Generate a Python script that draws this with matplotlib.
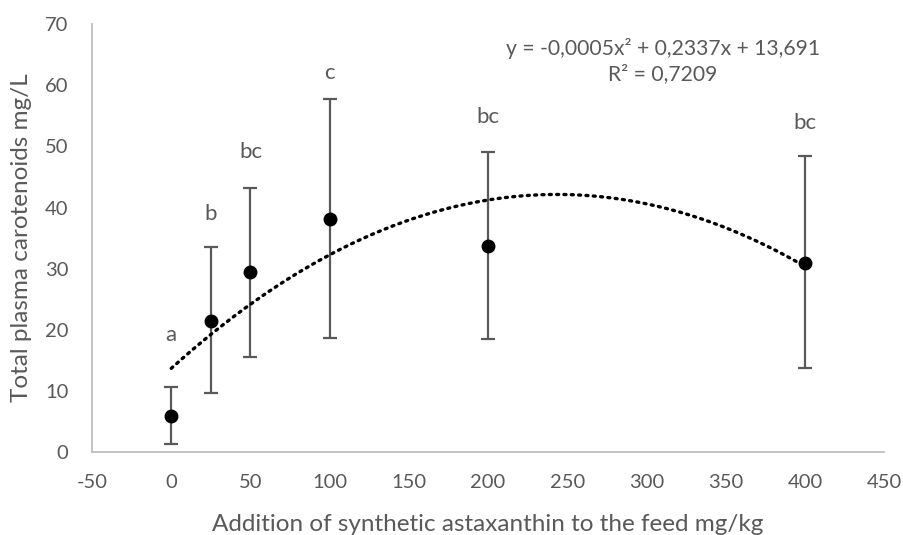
import numpy as np
import matplotlib
matplotlib.use("Agg")
import matplotlib.pyplot as plt

# Data
doses = [0, 25, 50, 100, 200, 400]
means = [5.95, 21.5, 29.5, 38.2, 33.7, 30.9]
err_low = [1.3, 9.6, 15.6, 18.6, 18.5, 13.7]
err_high = [10.6, 33.5, 43.2, 57.7, 49.1, 48.4]
letters = ["a", "b", "bc", "c", "bc", "bc"]
letter_y = [19.2, 38.9, 49.0, 62.0, 54.8, 53.9]
# Trendline coefficients (quadratic, as fitted in the source chart)
trend_coef = [-0.00048, 0.2337, 13.691]
equation_text = "y = -0,0005x² + 0,2337x + 13,691\nR² = 0,7209"

plt.rcParams['font.family'] = ['Lato', 'DejaVu Sans']
plt.rcParams['axes.unicode_minus'] = False
gray = '#595959'

fig = plt.figure(figsize=(9.04, 5.35), dpi=100)
ax = fig.add_axes([0.1018, 0.155, 0.8762, 0.80])

means_a = np.array(means)
yerr = np.array([means_a - np.array(err_low), np.array(err_high) - means_a])
ax.errorbar(doses, means, yerr=yerr, fmt='none', ecolor=gray, elinewidth=1.6,
            capsize=5, capthick=1.6, zorder=2)

xt = np.linspace(0, 400, 300)
ax.plot(xt, np.polyval(trend_coef, xt), color='black', lw=2.4,
        linestyle=(0, (0.6, 1.6)), dash_capstyle='round', zorder=3)

ax.plot(doses, means, 'o', color='black', markersize=9, zorder=4)

for x, y, t in zip(doses, letter_y, letters):
    ax.text(x, y, t, ha='center', va='center', fontsize=16, color=gray)

ax.text((663 - 92) / 792, (452 - 61) / 428, equation_text, transform=ax.transAxes,
        ha='center', va='center', fontsize=15.2, color=gray, linespacing=1.35)

ax.set_xlim(-50, 450)
ax.set_ylim(0, 70)
ax.set_xticks(np.arange(-50, 451, 50))
ax.set_yticks(np.arange(0, 71, 10))
ax.tick_params(length=0, labelsize=14.5, labelcolor=gray)
ax.tick_params(axis='x', pad=16)
ax.tick_params(axis='y', pad=17)
for s in ['top', 'right']:
    ax.spines[s].set_visible(False)
for s in ['left', 'bottom']:
    ax.spines[s].set_color('#BFBFBF')
    ax.spines[s].set_linewidth(1.3)

ax.set_xlabel("Addition of synthetic astaxanthin to the feed mg/kg", fontsize=17.5,
              color=gray, labelpad=16)
ax.set_ylabel("Total plasma carotenoids mg/L", fontsize=17.5, color=gray, labelpad=9)

fig.savefig("out.png", dpi=100)
